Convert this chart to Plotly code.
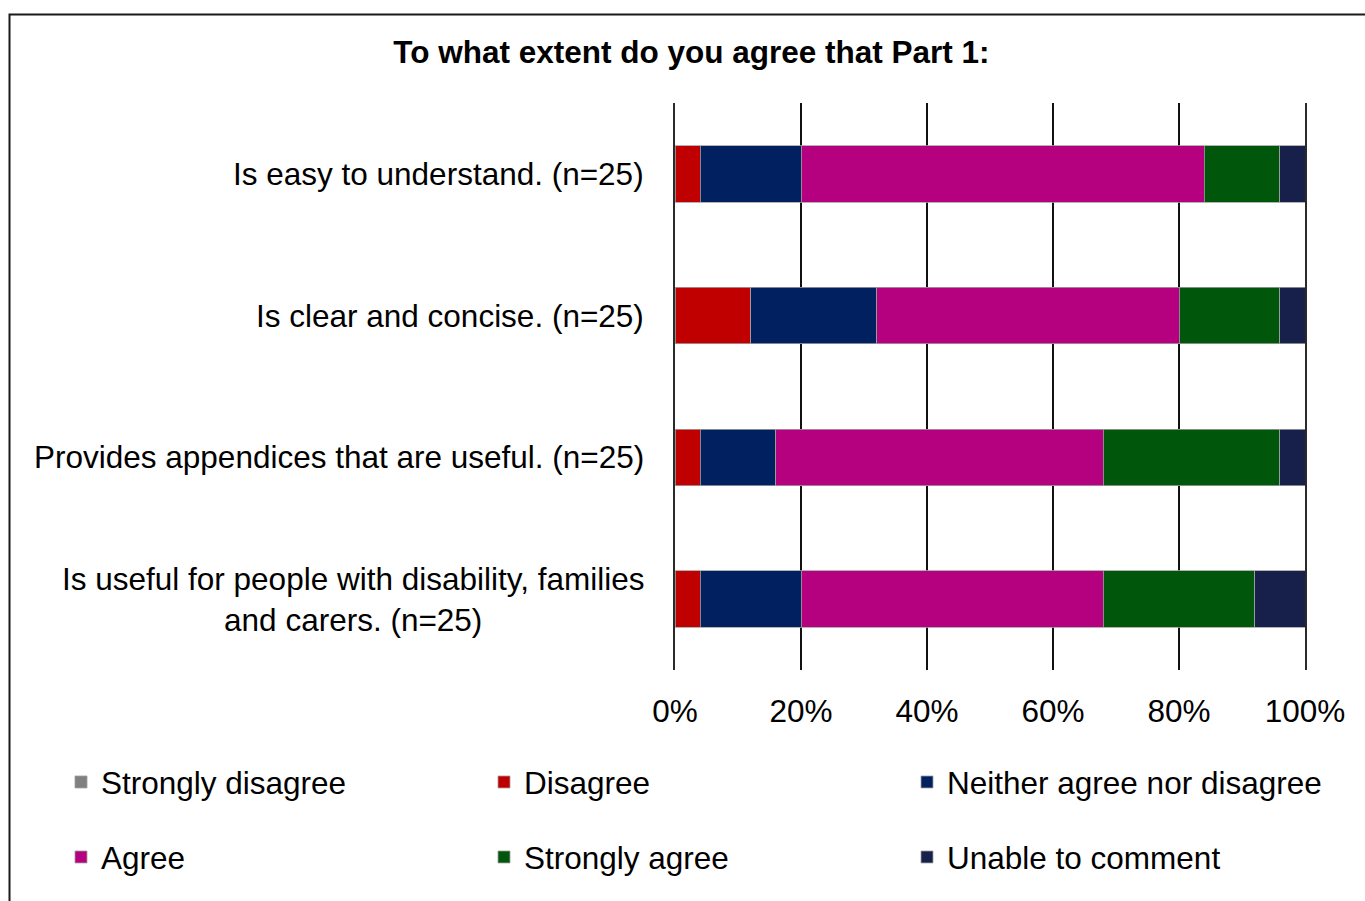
import plotly.graph_objects as go

# Survey responses (% of respondents, n=25 per statement)
categories = [
    "Is easy to understand. (n=25)",
    "Is clear and concise. (n=25)",
    "Provides appendices that are useful. (n=25)",
    "Is useful for people with disability, families<br>and carers. (n=25)",
]
strongly_disagree = [0, 0, 0, 0]
disagree = [4, 12, 4, 4]
neither = [16, 20, 12, 16]
agree = [64, 48, 52, 48]
strongly_agree = [12, 16, 28, 24]
unable = [4, 4, 4, 8]

series_names = [
    "Strongly disagree",
    "Disagree",
    "Neither agree nor disagree",
    "Agree",
    "Strongly agree",
    "Unable to comment",
]
series_values = [strongly_disagree, disagree, neither, agree, strongly_agree, unable]
series_colors = ["#808080", "#C00000", "#002060", "#B5007F", "#00560A", "#17204A"]
legend_rows = ["legend", "legend", "legend", "legend2", "legend2", "legend2"]

tick_vals = [0, 20, 40, 60, 80, 100]
tick_text = ["0%", "20%", "40%", "60%", "80%", "100%"]

FONT = "Liberation Sans, Arial, sans-serif"
FS = 31.5
W, H = 1365, 901
L, R, T, B = 675, 60, 103, 231
pw, ph = W - L - R, H - T - B


def px_x(p):
    return (p - L) / pw


def px_y(p):
    return (H - B - p) / ph


fig = go.Figure()
for name, vals, color, lg in zip(series_names, series_values, series_colors, legend_rows):
    fig.add_trace(go.Bar(
        name=name,
        y=categories,
        x=vals,
        orientation="h",
        marker=dict(color=color, line=dict(color="#a0a0a0", width=0.8)),
        legend=lg,
    ))

# Category labels, right-aligned to the axis with centred lines
for cat in categories:
    fig.add_annotation(
        x=0, xref="paper", y=cat, yref="y",
        text=cat, showarrow=False,
        xanchor="right", yanchor="middle", align="center",
        xshift=-29,
        font=dict(family=FONT, size=FS, color="black"),
    )

# Outer chart frame
fig.add_shape(
    type="rect", xref="paper", yref="paper",
    x0=px_x(9.5), x1=px_x(1370), y0=px_y(14.5), y1=px_y(910),
    line=dict(color="#1a1a1a", width=2), fillcolor="rgba(0,0,0,0)", layer="below",
)

legend_common = dict(
    orientation="h",
    xref="paper", yref="paper",
    xanchor="left", yanchor="middle",
    x=px_x(61),
    entrywidth=378, entrywidthmode="pixels",
    font=dict(family=FONT, size=FS, color="black"),
    bgcolor="rgba(0,0,0,0)",
    traceorder="normal",
)

fig.update_layout(
    width=W, height=H,
    margin=dict(l=L, r=R, t=T, b=B, autoexpand=False),
    barmode="stack",
    bargap=0.6,
    paper_bgcolor="white",
    plot_bgcolor="white",
    font=dict(family=FONT, size=FS, color="black"),
    title=dict(
        text="<b>To what extent do you agree that Part 1:</b>",
        xref="container", yref="container",
        x=691.5 / W, xanchor="center",
        y=1 - 52 / H, yanchor="middle",
        font=dict(family=FONT, size=FS, color="black"),
    ),
    xaxis=dict(
        range=[0, 100],
        tickvals=tick_vals, ticktext=tick_text,
        showgrid=True, gridcolor="#111111", gridwidth=2,
        zeroline=False, showline=False,
        ticks="", ticklabelstandoff=19,
        tickfont=dict(family=FONT, size=FS, color="black"),
        fixedrange=True,
    ),
    yaxis=dict(
        categoryorder="array", categoryarray=categories,
        autorange="reversed",
        showticklabels=False, showgrid=False, zeroline=False,
        showline=True, linecolor="#2a2a2a", linewidth=2, mirror=True,
        fixedrange=True,
    ),
    legend=dict(legend_common, y=px_y(782)),
    legend2=dict(legend_common, y=px_y(857)),
    showlegend=True,
)

fig.write_html("out.html")
